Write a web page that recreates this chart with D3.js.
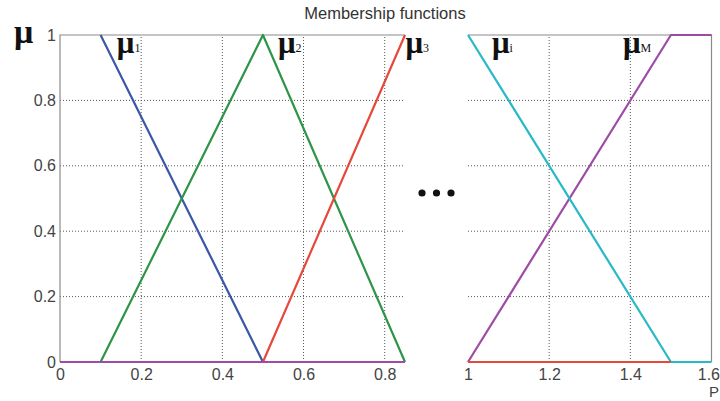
<!DOCTYPE html>
<html><head><meta charset="utf-8">
<script src="https://cdn.jsdelivr.net/npm/d3@7/dist/d3.min.js"></script>
<style>body{margin:0;background:#fff}svg{display:block}</style>
</head><body>
<svg id="c" width="720" height="401"></svg>
<script>
// ---- data ----
const leftTicks = [0, 0.2, 0.4, 0.6, 0.8];
const rightTicks = [1, 1.2, 1.4, 1.6];
const yTicks = [0, 0.2, 0.4, 0.6, 0.8, 1];
const mu1X = [0.1, 0.5, 0.85];      const mu1Y = [1, 0, 0];
const mu2X = [0, 0.1, 0.5, 0.85];   const mu2Y = [0, 0, 1, 0];
const mu3LX = [0, 0.5, 0.85];       const mu3LY = [0, 0, 1];
const mu3RX = [1, 1.5];             const mu3RY = [0, 0];
const muiX = [1, 1.5, 1.6];         const muiY = [1, 0, 0];
const muMLX = [0, 0.85];            const muMLY = [0, 0];
const muMRX = [1, 1.5, 1.6];        const muMRY = [0, 1, 1];
const labels = [
  {sym: "μ", sub: "1", x: 0.14, panel: "L"},
  {sym: "μ", sub: "2", x: 0.537, panel: "L"},
  {sym: "μ", sub: "3", x: 0.851, panel: "L"},
  {sym: "μ", sub: "i", x: 1.059, panel: "R"},
  {sym: "μ", sub: "M", x: 1.382, panel: "R"}
];

const svg = d3.select("#c");
const y = d3.scaleLinear().domain([0, 1]).range([362, 35]);
const xL = d3.scaleLinear().domain([0, 0.85]).range([60, 405]);
const xR = d3.scaleLinear().domain([1, 1.6]).range([468, 711.5]);

const C = {blue: "#3b57a6", green: "#2e9447", red: "#e6483b", cyan: "#27b9c6", mag: "#9e4ba6"};
const zip = (xs, ys) => xs.map((v, i) => [v, ys[i]]);
const font = "Liberation Sans, Arial, sans-serif";
const serif = "Liberation Serif, Times New Roman, serif";

// title
svg.append("text").attr("x", 385).attr("y", 19).attr("text-anchor", "middle")
  .attr("font-family", font).attr("font-size", 16.5)
  .attr("fill", "#333").text("Membership functions");

// grid
const grid = svg.append("g").attr("stroke", "#555").attr("stroke-width", 1).attr("stroke-dasharray", "1,2");
leftTicks.filter(d => d > 0).forEach(d => grid.append("line").attr("x1", xL(d)).attr("x2", xL(d)).attr("y1", y(0)).attr("y2", y(1)));
rightTicks.filter(d => d > 1 && d < 1.6).forEach(d => grid.append("line").attr("x1", xR(d)).attr("x2", xR(d)).attr("y1", y(0)).attr("y2", y(1)));
yTicks.filter(d => d > 0 && d < 1).forEach(d => {
  grid.append("line").attr("x1", xL(0)).attr("x2", xL(0.85)).attr("y1", y(d)).attr("y2", y(d));
  grid.append("line").attr("x1", xR(1)).attr("x2", xR(1.6)).attr("y1", y(d)).attr("y2", y(d));
});

// borders
const bord = svg.append("g").attr("stroke", "#8a8a8a").attr("stroke-width", 1.2).attr("fill", "none");
bord.append("path").attr("d", `M${xL(0)},${y(0)}V${y(1)}H${xL(0.85)}`);
bord.append("path").attr("d", `M${xR(1)},${y(1)}H${xR(1.6)}V${y(0)}`);

// axes
function style(g) {
  g.select(".domain").remove();
  g.selectAll("line").remove();
  g.selectAll("text").attr("font-family", font).attr("font-size", 16).attr("fill", "#444");
}
svg.append("g").attr("transform", `translate(0,${y(0)})`)
  .call(d3.axisBottom(xL).tickValues(leftTicks).tickSize(0).tickPadding(7).tickFormat(d3.format("~g"))).call(style);
const gr = svg.append("g").attr("transform", `translate(0,${y(0)})`)
  .call(d3.axisBottom(xR).tickValues(rightTicks).tickSize(0).tickPadding(7).tickFormat(d3.format("~g"))).call(style);
gr.selectAll(".tick").filter(d => d === 1.6).select("text").attr("text-anchor", "end").attr("x", 8);
svg.append("g").attr("transform", `translate(${xL(0) - 3},0)`)
  .call(d3.axisLeft(y).tickValues(yTicks).tickSize(0).tickPadding(1).tickFormat(d3.format("~g"))).call(style);

svg.append("text").attr("x", 709).attr("y", 397).attr("font-family", font).attr("font-size", 15)
  .attr("fill", "#444").text("P");

// lines
const lineL = d3.line().x(d => xL(d[0])).y(d => y(d[1]));
const lineR = d3.line().x(d => xR(d[0])).y(d => y(d[1]));
function draw(gen, pts, col) {
  svg.append("path").attr("d", gen(pts)).attr("fill", "none").attr("stroke", col)
    .attr("stroke-width", 2.2).attr("stroke-linejoin", "round");
}
draw(lineL, zip(mu1X, mu1Y), C.blue);
draw(lineL, zip(mu2X, mu2Y), C.green);
draw(lineL, zip(mu3LX, mu3LY), C.red);
draw(lineL, zip(muMLX, muMLY), C.mag);
draw(lineR, zip(muMRX, muMRY), C.mag);
draw(lineR, zip(muiX, muiY), C.cyan);
draw(lineR, zip(mu3RX, mu3RY), C.red);

// axis mu
svg.append("text").attr("x", 14).attr("y", 43).attr("font-family", serif).attr("font-size", 34)
  .attr("font-weight", "bold").attr("fill", "#111").text("μ");

// function labels
labels.forEach(l => {
  const sc = l.panel === "L" ? xL : xR;
  const t = svg.append("text").attr("x", sc(l.x)).attr("y", 53).attr("font-family", serif)
    .attr("font-size", 31).attr("font-weight", "bold").attr("fill", "#111");
  t.append("tspan").text(l.sym);
  t.append("tspan").attr("font-size", 12).attr("font-weight", "normal").attr("dy", -1).text(l.sub);
});

// ellipsis dots
const dots = [0, 1, 2];
svg.selectAll("circle.dot").data(dots).enter().append("circle")
  .attr("cx", d => 422 + d * 14.5).attr("cy", 193).attr("r", 3.6).attr("fill", "#111");
</script>
</body></html>
